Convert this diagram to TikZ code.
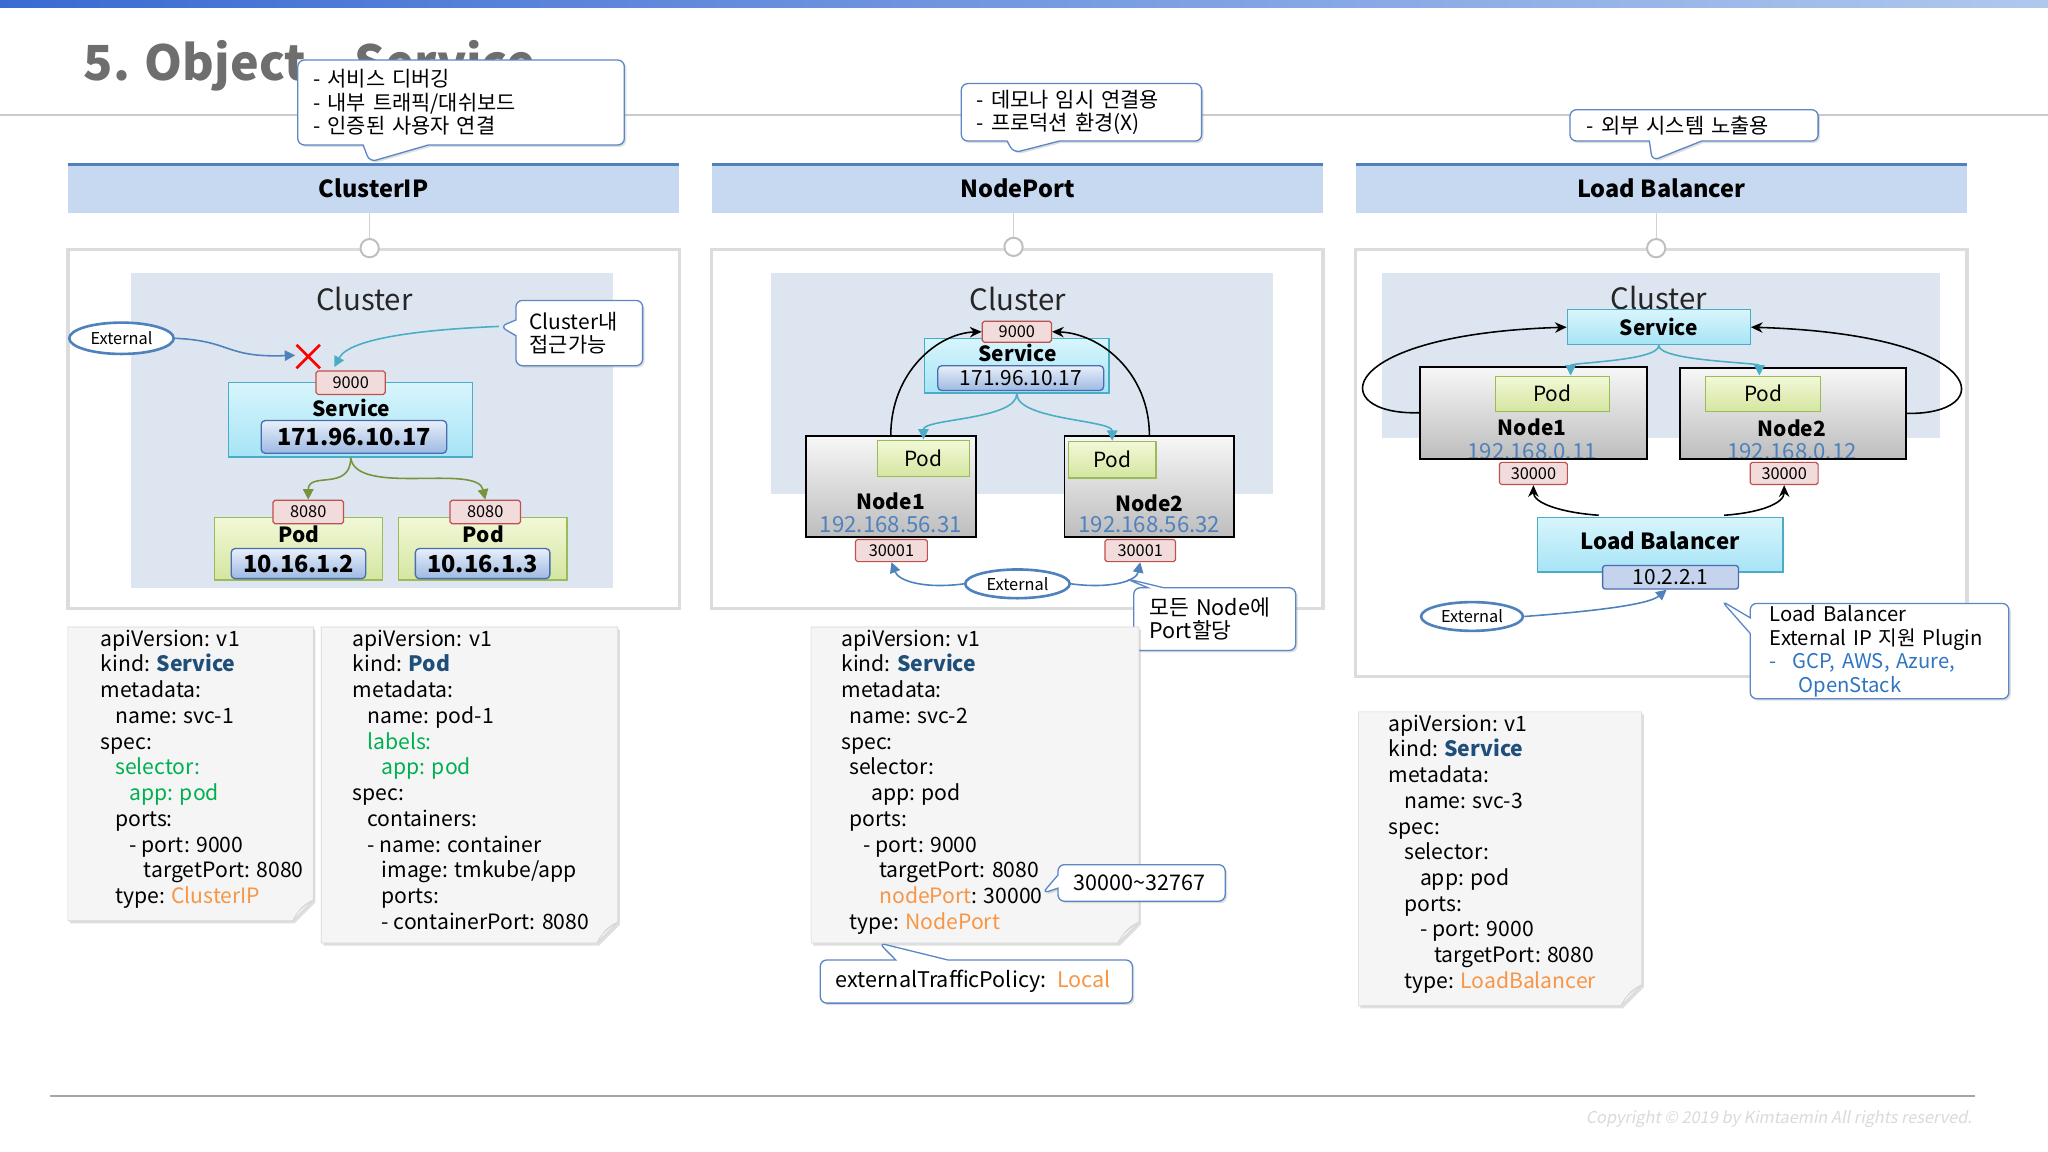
\documentclass[tikz,border=0pt]{standalone}
\usepackage{fontspec}
\setmainfont{Noto Sans CJK KR}
\newfontfamily\copyfont[FakeSlant=0.2]{Noto Sans CJK KR}
\usetikzlibrary{arrows.meta,shapes.geometric,shapes.callouts,shadows,calc}
\definecolor{topL}{HTML}{3A6BD3}
\definecolor{topR}{HTML}{AFC8EE}
\definecolor{titlegray}{HTML}{6E6E6E}
\definecolor{rulegray}{HTML}{CACACA}
\definecolor{hdrfill}{HTML}{C6D9F1}
\definecolor{hdrline}{HTML}{4F81BD}
\definecolor{panelgray}{HTML}{DCDCDC}
\definecolor{circgray}{HTML}{BFBFBF}
\definecolor{clusterbg}{HTML}{DDE6F0}
\definecolor{portred}{HTML}{C0504D}
\definecolor{portpink}{HTML}{F2DCDB}
\definecolor{svcborder}{HTML}{4BACC6}
\definecolor{svctop}{HTML}{D8F5FC}
\definecolor{svcbot}{HTML}{A6E4F6}
\definecolor{ipborder}{HTML}{4A6CB0}
\definecolor{iptop}{HTML}{E8EFF9}
\definecolor{ipbot}{HTML}{9DB9E2}
\definecolor{podborder}{HTML}{9BBB59}
\definecolor{podtop}{HTML}{F2F8D8}
\definecolor{podbot}{HTML}{D4E6A0}
\definecolor{nodetop}{HTML}{F7F7F7}
\definecolor{nodebot}{HTML}{BDBDBD}
\definecolor{extblue}{HTML}{4F81BD}
\definecolor{callblue}{HTML}{5B87C7}
\definecolor{tealc}{HTML}{4BACC6}
\definecolor{greenc}{HTML}{77933C}
\definecolor{ipblue}{HTML}{4F81BD}
\definecolor{kindblue}{HTML}{1F4E79}
\definecolor{selgreen}{HTML}{00B050}
\definecolor{typeorange}{HTML}{F79646}
\definecolor{paperfill}{HTML}{F5F5F5}
\definecolor{paperedge}{HTML}{D6D6D6}
\definecolor{foldfill}{HTML}{FBFBFB}
\definecolor{footgray}{HTML}{A6A6A6}
\definecolor{copygray}{HTML}{DADADA}
\definecolor{lbipfill}{HTML}{C5D4EC}
\definecolor{linkblue}{HTML}{2F75C0}
\newcommand\myfs[2]{\fontsize{#1}{#2}\selectfont}
\newcommand\yamlpaper[4]{%
  \path[fill=paperfill, draw=paperedge, line width=0.5pt, drop shadow={shadow xshift=1.5pt, shadow yshift=-2pt, opacity=0.25}] (#1,#2) -- (#3,#2) -- (#3,#4-16) -- (#3-16,#4) -- (#1,#4) -- cycle;
  \path[fill=foldfill, draw=paperedge, line width=0.6pt] (#3-16,#4) .. controls (#3-12,#4-7) and (#3-9,#4-12) .. (#3,#4-16) .. controls (#3-9,#4-10) and (#3-12,#4-8) .. (#3-16,#4) -- cycle;
}
\begin{document}
\begin{tikzpicture}[x=1pt,y=-1pt,
  hdr/.style={fill=hdrfill, minimum width=468pt, minimum height=37pt, inner sep=0pt, font=\myfs{18}{21}\bfseries},
  panelbox/.style={draw=panelgray, line width=2.5pt, inner sep=0pt, minimum width=468pt},
  connc/.style={circle, draw=circgray, line width=1.5pt, fill=white, minimum size=14pt, inner sep=0pt},
  clbg/.style={fill=clusterbg, inner sep=0pt},
  cltext/.style={font=\myfs{22.5}{26}, text=black!85},
  portbox/.style={draw=portred, fill=portpink, rounded corners=1.5pt, line width=0.9pt, inner sep=0pt, minimum width=53pt, minimum height=17pt, font=\myfs{12.5}{14}},
  svcbox/.style={draw=svcborder, top color=svctop, bottom color=svcbot, line width=1pt, inner sep=0pt},
  ipbox/.style={draw=ipborder, top color=iptop, bottom color=ipbot, rounded corners=3pt, line width=1pt, inner sep=0pt},
  podbox/.style={draw=podborder, top color=podtop, bottom color=podbot, line width=1pt, inner sep=0pt},
  nodebox/.style={draw=black, top color=nodetop, bottom color=nodebot, line width=1.3pt, inner sep=0pt},
  extell/.style={ellipse, draw=extblue, line width=2pt, fill=white, inner sep=0pt, font=\myfs{12.5}{14}},
  callbox/.style={rectangle callout, draw=callblue, line width=1pt, fill=white, rounded corners=5pt, drop shadow={shadow xshift=1.5pt, shadow yshift=-1.5pt, opacity=0.25}, align=left, inner ysep=0pt},
  lbl/.style={inner sep=0pt},
  arrblue/.style={draw=extblue, line width=1.2pt, -{Triangle[length=8pt,width=8pt]}},
  arrteal/.style={draw=tealc, line width=1.2pt, -{Triangle[length=8pt,width=8pt]}},
  arrgreen/.style={draw=greenc, line width=1.2pt, -{Triangle[length=8pt,width=8pt]}},
  arrblack/.style={draw=black, line width=1.2pt, -{Stealth[length=9pt,width=8pt]}},
  yamltext/.style={align=left, inner sep=0pt, anchor=north west, font=\myfs{16.2}{19.7}},
]
\useasboundingbox (0,0) rectangle (1568,882);
\fill[white] (0,0) rectangle (1568,882);
% top bar
\shade[left color=topL, right color=topR] (0,0) rectangle (1568,6);
% title
\node[anchor=base west, inner sep=0pt, font=\myfs{37}{42}\bfseries, text=titlegray] (title) at (64,62) {5. Object – Service};
\draw[rulegray, line width=1.5pt] (0,88) -- (1568,88);

% headers
\node[hdr] (h1) at (286,144.5) {ClusterIP};
\node[hdr] (h2) at (779,144.5) {NodePort};
\node[hdr] (h3) at (1272,144.5) {Load Balancer};
\foreach \h in {h1,h2,h3} \draw[hdrline, line width=2.5pt] (\h.north west) -- (\h.north east);

% panels
\node[panelbox, minimum height=275pt] (pn1) at (286,328.5) {};
\node[panelbox, minimum height=275pt] (pn2) at (779,328.5) {};
\node[panelbox, minimum height=327pt] (pn3) at (1272,354.5) {};
\node[connc] (cc1) at (283,190) {};
\node[connc] (cc2) at (776,189) {};
\node[connc] (cc3) at (1268,190) {};
\draw[circgray!70, line width=0.8pt] (h1.south -| cc1) -- (cc1.north);
\draw[circgray!70, line width=0.8pt] (h2.south -| cc2) -- (cc2.north);
\draw[circgray!70, line width=0.8pt] (h3.south -| cc3) -- (cc3.north);

% ================= ClusterIP =================
\node[clbg, minimum width=369pt, minimum height=241pt] (cl1) at (284.5,329.5) {};
\node[cltext] (clt1) at (279,229) {Cluster};
\node[extell, minimum width=80pt, minimum height=24pt] (ext1) at (93,259) {External};
\coordinate (xm) at (236,273);
\coordinate (xarr) at (226,272);
\draw[red, line width=2pt] ($(xm)+(-9,-9)$) -- ($(xm)+(9,9)$) ($(xm)+(-9,9)$) -- ($(xm)+(9,-9)$);
\draw[arrblue] (ext1.east) .. controls (178,261) and (172,274) .. (xarr);
\node[svcbox, minimum width=187pt, minimum height=57pt] (svc1) at (268.5,321.5) {};
\node[lbl, font=\myfs{16}{18}\bfseries] (svc1t) at (269,312) {Service};
\node[ipbox, minimum width=142pt, minimum height=25pt, font=\myfs{18}{20}\bfseries] (ip1) at (271,334.5) {171.96.10.17};
\node[portbox, minimum height=18pt] (p9a) at (268.5,293) {9000};
\node[podbox, minimum width=129pt, minimum height=48pt] (poda) at (228.5,420) {};
\node[podbox, minimum width=129pt, minimum height=48pt] (podb) at (369.5,420) {};
\node[lbl, font=\myfs{16}{18}\bfseries] (podat) at (229,409) {Pod};
\node[lbl, font=\myfs{16}{18}\bfseries] (podbt) at (370,409) {Pod};
\node[ipbox, minimum width=103pt, minimum height=23pt, font=\myfs{18}{20}\bfseries] (ipa) at (228.5,431.5) {10.16.1.2};
\node[ipbox, minimum width=103pt, minimum height=23pt, font=\myfs{18}{20}\bfseries] (ipb) at (369.5,431.5) {10.16.1.3};
\node[portbox, minimum width=54pt, minimum height=18pt] (p8a) at (236,392) {8080};
\node[portbox, minimum width=54pt, minimum height=18pt] (p8b) at (371.5,392) {8080};
\draw[arrgreen] (svc1.south) .. controls +(0,26) and +(0,-22) .. (p8a.north);
\draw[arrgreen] (svc1.south) .. controls +(4,30) and +(-6,-28) .. (p8b.north);
\node[callbox, minimum width=97pt, minimum height=50pt, text width=76pt, inner xsep=10.5pt, font=\myfs{16}{18},
  callout absolute pointer={(383,250)}, callout pointer width=12pt] (co4) at (443.5,255) {Cluster내\\접근가능};
\coordinate (tealin) at (256,281);
\draw[arrteal] (co4.pointer) .. controls (330,252) and (268,258) .. (tealin);

% YAML 1 & 2
\yamlpaper{52}{480}{240}{705}
\node[yamltext] (y1) at (77,482) {apiVersion: v1\\
kind: \textcolor{kindblue}{\textbf{Service}}\\
metadata:\\
\hspace*{11pt}name: svc-1\\
spec:\\
\hspace*{11pt}\textcolor{selgreen}{selector:}\\
\hspace*{22pt}\textcolor{selgreen}{app: pod}\\
\hspace*{11pt}ports:\\
\hspace*{22pt}- port: 9000\\
\hspace*{33pt}targetPort: 8080\\
\hspace*{11pt}type: \textcolor{typeorange}{ClusterIP}};
\yamlpaper{246}{480}{473}{722}
\node[yamltext] (y2) at (270,482) {apiVersion: v1\\
kind: \textcolor{kindblue}{\textbf{Pod}}\\
metadata:\\
\hspace*{11pt}name: pod-1\\
\hspace*{11pt}\textcolor{selgreen}{labels:}\\
\hspace*{22pt}\textcolor{selgreen}{app: pod}\\
spec:\\
\hspace*{11pt}containers:\\
\hspace*{11pt}- name: container\\
\hspace*{22pt}image: tmkube/app\\
\hspace*{22pt}ports:\\
\hspace*{22pt}- containerPort: 8080};

% ================= NodePort =================
\node[clbg, minimum width=385pt, minimum height=169pt] (cl2) at (782.5,293.5) {};
\node[cltext] (clt2) at (779,229) {Cluster};
\node[svcbox, minimum width=141pt, minimum height=42pt] (svc2) at (778.5,280) {};
\node[lbl, font=\myfs{16}{18}\bfseries] (svc2t) at (779,270) {Service};
\node[ipbox, minimum width=127pt, minimum height=19pt, font=\myfs{16}{18}] (ip2) at (781.5,289.5) {171.96.10.17};
\node[portbox, minimum height=16pt] (p9b) at (778.5,254) {9000};
\node[nodebox, minimum width=130pt, minimum height=77pt] (n1b) at (682,372.5) {};
\node[nodebox, minimum width=130pt, minimum height=77pt] (n2b) at (880,372.5) {};
\node[podbox, minimum width=70pt, minimum height=28pt, font=\myfs{16}{18}] (pd1b) at (707,351) {Pod};
\node[podbox, minimum width=67pt, minimum height=28pt, font=\myfs{16}{18}] (pd2b) at (851.5,352) {Pod};
\node[lbl, font=\myfs{16}{18}\bfseries] (n1bt) at (682,384) {Node1};
\node[lbl, font=\myfs{16}{18}\bfseries] (n2bt) at (880,385) {Node2};
\node[lbl, font=\myfs{17}{19}, text=ipblue] (n1bip) at (682,402) {192.168.56.31};
\node[lbl, font=\myfs{17}{19}, text=ipblue] (n2bip) at (880,402) {192.168.56.32};
\node[portbox, minimum width=55pt] (p30a) at (682.5,421.5) {30001};
\node[portbox, minimum width=54pt] (p30b) at (873,421.5) {30001};
\draw[arrblack] (n1b.north) .. controls (682,285) and (718,255) .. (p9b.west);
\draw[arrblack] (n2b.north) .. controls (880,285) and (842,255) .. (p9b.east);
\draw[arrteal] (svc2.south) .. controls +(0,20) and +(0,-16) .. (pd1b.north);
\draw[arrteal] (svc2.south) .. controls +(0,20) and +(0,-16) .. (pd2b.north);
\node[extell, minimum width=80pt, minimum height=22pt] (ext2) at (779,447) {External};
\draw[arrblue] (ext2.west) .. controls (708,451) and (688,445) .. (p30a.south);
\draw[arrblue] (ext2.east) .. controls (850,451) and (870,445) .. (p30b.south);
\node[callbox, minimum width=124pt, minimum height=48pt, text width=100pt, inner xsep=12pt, font=\myfs{16.5}{18},
  callout absolute pointer={(862,443)}, callout pointer width=12pt] (co5) at (930,474) {모든 Node에\\Port할당};

% YAML 3
\yamlpaper{621}{480}{872}{722}
\node[yamltext] (y3) at (644,482) {apiVersion: v1\\
kind: \textcolor{kindblue}{\textbf{Service}}\\
metadata:\\
\hspace*{6pt}name: svc-2\\
spec:\\
\hspace*{6pt}selector:\\
\hspace*{23pt}app: pod\\
\hspace*{6pt}ports:\\
\hspace*{17pt}- port: 9000\\
\hspace*{29pt}targetPort: 8080\\
\hspace*{29pt}\textcolor{typeorange}{nodePort}: 30000\\
\hspace*{6pt}type: \textcolor{typeorange}{NodePort}};
\node[callbox, minimum width=128pt, minimum height=28pt, text width=104pt, inner xsep=12pt, font=\myfs{16.5}{18},
  callout absolute pointer={(798,684)}, callout pointer width=10pt] (co6) at (874,676) {30000\textasciitilde32767};
\node[callbox, minimum width=239pt, minimum height=33pt, text width=215pt, inner xsep=12pt, font=\myfs{16.5}{18},
  callout absolute pointer={(673,722)}, callout pointer width=40pt] (co7) at (747.5,751.5) {externalTrafficPolicy: \textcolor{typeorange}{Local}};

% ================= LoadBalancer =================
\node[clbg, minimum width=427pt, minimum height=126pt] (cl3) at (1271.5,272) {};
\node[cltext] (clt3) at (1270,228) {Cluster};
\node[svcbox, minimum width=140pt, minimum height=27pt, font=\myfs{16}{18}\bfseries] (svc3) at (1270,250.5) {Service};
\node[nodebox, minimum width=174pt, minimum height=70pt] (n1c) at (1174,316) {};
\node[nodebox, minimum width=173pt, minimum height=69pt] (n2c) at (1372.5,316.5) {};
\node[podbox, minimum width=87pt, minimum height=27pt, font=\myfs{16}{18}] (pd1c) at (1188.5,301.5) {Pod};
\node[podbox, minimum width=88pt, minimum height=27pt, font=\myfs{16}{18}] (pd2c) at (1350,301.5) {Pod};
\node[lbl, font=\myfs{16}{18}\bfseries] (n1ct) at (1173,327) {Node1};
\node[lbl, font=\myfs{16}{18}\bfseries] (n2ct) at (1372,328) {Node2};
\node[lbl, font=\myfs{17}{19}, text=ipblue] (n1cip) at (1173,346) {192.168.0.11};
\node[lbl, font=\myfs{17}{19}, text=ipblue] (n2cip) at (1372,346) {192.168.0.12};
\draw[black, line width=1.3pt] (n1c.south west) -- (n1c.south east);
\draw[black, line width=1.3pt] (n2c.south west) -- (n2c.south east);
\node[portbox, minimum width=52pt] (p30c) at (1174,362.5) {30000};
\node[portbox, minimum width=52pt] (p30d) at (1366,362.5) {30000};
\draw[arrblack] (n1c.west) .. controls (1015,318) and (1020,256) .. (svc3.west);
\draw[arrblack] (n2c.east) .. controls (1530,318) and (1525,256) .. (svc3.east);
\draw[arrteal] (svc3.south) .. controls +(0,12) and +(0,-10) .. ($(pd1c.north)+(14,0)$);
\draw[arrteal] (svc3.south) .. controls +(0,12) and +(0,-10) .. ($(pd2c.north)+(-3,0)$);
\node[svcbox, minimum width=188pt, minimum height=42pt] (lb) at (1271,417) {};
\node[lbl, font=\myfs{17}{19}\bfseries] (lbt) at (1271,414) {Load Balancer};
\node[draw=ipborder, fill=lbipfill, rounded corners=2pt, line width=1pt, inner sep=0pt, minimum width=104pt, minimum height=18pt, font=\myfs{16}{18}] (lbip) at (1279,442) {10.2.2.1};
\draw[arrblack] ($(lb.north)+(-47,-1)$) .. controls +(-28,-2) and +(0,14) .. (p30c.south);
\draw[arrblack] ($(lb.north)+(49,-1)$) .. controls +(28,-2) and +(0,14) .. (p30d.south);
\node[extell, minimum width=78pt, minimum height=22pt] (ext3) at (1127,472) {External};
\draw[arrblue] (ext3.east) .. controls (1220,468) and (1262,463) .. ($(lbip.south)+(-3,0)$);
\node[callbox, minimum width=198pt, minimum height=73pt, text width=180pt, inner xsep=9pt, font=\myfs{15.5}{18},
  callout absolute pointer={(1318,460)}, callout pointer width=12pt] (co8) at (1439,498.5) {\hspace*{6pt}Load Balancer\\\hspace*{6pt}\mbox{External IP 지원 Plugin}\\\hspace*{6pt}\textcolor{linkblue}{-\hspace*{12pt}GCP, AWS, Azure,}\\\hspace*{28pt}\textcolor{linkblue}{OpenStack}};

% YAML 4
\yamlpaper{1040}{545}{1257}{770}
\node[yamltext] (y4) at (1063,547) {apiVersion: v1\\
kind: \textcolor{kindblue}{\textbf{Service}}\\
metadata:\\
\hspace*{12pt}name: svc-3\\
spec:\\
\hspace*{12pt}selector:\\
\hspace*{24pt}app: pod\\
\hspace*{12pt}ports:\\
\hspace*{24pt}- port: 9000\\
\hspace*{35pt}targetPort: 8080\\
\hspace*{12pt}type: \textcolor{typeorange}{LoadBalancer}};

% ================= top callouts =================
\node[callbox, minimum width=250pt, minimum height=65pt, text width=226pt, inner xsep=12pt, font=\myfs{16}{18},
  callout absolute pointer={(283,124)}, callout pointer width=50pt] (co1) at (353,78.5) {- 서비스 디버깅\\- 내부 트래픽/대쉬보드\\- 인증된 사용자 연결};
\node[callbox, minimum width=184pt, minimum height=44pt, text width=160pt, inner xsep=12pt, font=\myfs{16}{18},
  callout absolute pointer={(776,117)}, callout pointer width=40pt] (co2) at (828,86) {- 데모나 임시 연결용\\- 프로덕션 환경(X)};
\node[callbox, minimum width=190pt, minimum height=24pt, text width=164pt, inner xsep=13pt, font=\myfs{16}{18},
  callout absolute pointer={(1265,123)}, callout pointer width=40pt] (co3) at (1297,96) {- 외부 시스템 노출용};

% footer
\draw[footgray, line width=2pt] (38,839) -- (1512,839);
\node[anchor=base east, inner sep=0pt, font=\copyfont\myfs{12.5}{14}, text=copygray] (copy) at (1510,860) {Copyright © 2019 by Kimtaemin All rights reserved.};
\end{tikzpicture}
\end{document}
